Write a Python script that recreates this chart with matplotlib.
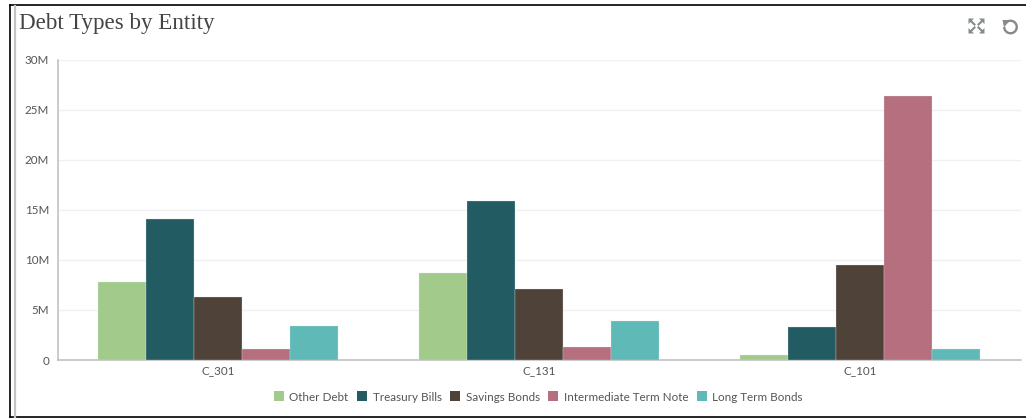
import numpy as np
import matplotlib
matplotlib.use('Agg')
import matplotlib.pyplot as plt
from matplotlib.lines import Line2D
from matplotlib.patches import Polygon, Arc

# valori (milioni)
entities = ['C_301', 'C_131', 'C_101']
other_debt = [7.8, 8.7, 0.5]
treasury_bills = [14.1, 15.9, 3.3]
savings_bonds = [6.3, 7.1, 9.5]
intermediate_note = [1.1, 1.3, 26.4]
long_term_bonds = [3.4, 3.9, 1.1]
series_names = ['Other Debt', 'Treasury Bills', 'Savings Bonds', 'Intermediate Term Note', 'Long Term Bonds']
series_colors = ['#a2ca8b', '#235b63', '#4f4238', '#b56f7f', '#5fb9b6']
y_ticks = [0, 5, 10, 15, 20, 25, 30]
y_labels = ['0', '5M', '10M', '15M', '20M', '25M', '30M']

W_PX = 1026
H_PX = 419
DPI = 100
TEXT = '#555555'

plt.rcParams['font.family'] = ['Lato', 'DejaVu Sans']

fig = plt.figure(figsize=(W_PX / DPI, H_PX / DPI), dpi=DPI, facecolor='white')


def px_x(x):
    return x / W_PX


def px_y(y):
    return 1 - y / H_PX


# area del grafico in pixel: x 57-1020, y 60-360
ax = fig.add_axes([px_x(57.5), px_y(360), (1020 - 57) / W_PX, 300 / H_PX])
series = [other_debt, treasury_bills, savings_bonds, intermediate_note, long_term_bonds]
x = np.arange(len(entities))
bar_w = 0.15
for i, vals in enumerate(series):
    ax.bar(x + (i - 2) * bar_w, vals, width=bar_w, color=series_colors[i], zorder=3,
           edgecolor='#dfe8e8', linewidth=0.2)

ax.set_xlim(-0.5, 2.5)
ax.set_ylim(0, 30)
ax.set_xticks(x, entities)
ax.set_yticks(y_ticks, y_labels)
ax.tick_params(axis='both', length=0, labelsize=8.4, labelcolor=TEXT)
ax.tick_params(axis='x', pad=4)
ax.tick_params(axis='y', pad=6)
ax.grid(axis='y', color='#f0f0f3', linewidth=1, zorder=0)
for s in ['top', 'right']:
    ax.spines[s].set_visible(False)
for s in ['left', 'bottom']:
    ax.spines[s].set_color('#bdbdbd')
    ax.spines[s].set_linewidth(1.1)

handles = [Line2D([], [], linestyle='none', marker='s', markersize=7.6, color=c, markeredgewidth=0)
           for c in series_colors]
fig.legend(handles, series_names, loc='center', bbox_to_anchor=(px_x(538), px_y(397)), ncol=5,
           frameon=False, fontsize=8.4, labelcolor=TEXT, handletextpad=0.38, columnspacing=0.68,
           borderpad=0, handlelength=1.0)

fig.text(px_x(19), px_y(23.5), 'Debt Types by Entity', fontsize=16.6, color='#444444',
         family=['Liberation Serif', 'DejaVu Serif'], va='center', ha='left')

# cornice nera e barra grigia a sinistra
frame = dict(transform=fig.transFigure, clip_on=False)
fig.add_artist(Line2D([px_x(10), 1], [px_y(5.5)] * 2, color='black', linewidth=1.2, **frame))
fig.add_artist(Line2D([px_x(10), 1], [px_y(417)] * 2, color='black', linewidth=1.2, **frame))
fig.add_artist(Line2D([px_x(10)] * 2, [px_y(5.5), px_y(417)], color='black', linewidth=1.2, **frame))
fig.add_artist(Line2D([px_x(15)] * 2, [px_y(6), px_y(417)], color='#c4c4c4', linewidth=1.6, **frame))

# icona espandi: quattro triangoli agli angoli
ICON = '#858a8d'
cx, cy = 976.5, 26
for sx, sy in [(-1, -1), (1, -1), (-1, 1), (1, 1)]:
    tri = [(cx + sx * 8, cy + sy * 7.5), (cx + sx * 2.5, cy + sy * 7.5), (cx + sx * 8, cy + sy * 2)]
    fig.add_artist(Polygon([(px_x(a), px_y(b)) for a, b in tri], closed=True, facecolor=ICON,
                           edgecolor='none', **frame))
    arm = [(cx + sx * 6, cy + sy * 5.5), (cx + sx * 2, cy + sy * 1.5)]
    fig.add_artist(Line2D([px_x(a) for a, b in arm], [px_y(b) for a, b in arm], color=ICON,
                          linewidth=1.5, **frame))

# icona ripristina: arco con freccia
ov = fig.add_axes([0, 0, 1, 1], facecolor='none')
ov.set_xlim(0, W_PX)
ov.set_ylim(H_PX, 0)
ov.axis('off')
ov.add_patch(Arc((1010.5, 27), 12.5, 12.5, theta1=-140, theta2=180, color=ICON, linewidth=1.7))
ov.add_patch(Polygon([(1002.5, 20), (1010, 20), (1004, 27.5)], closed=True, facecolor=ICON, edgecolor='none'))

fig.savefig('out.png', dpi=DPI, facecolor='white')
plt.close(fig)
